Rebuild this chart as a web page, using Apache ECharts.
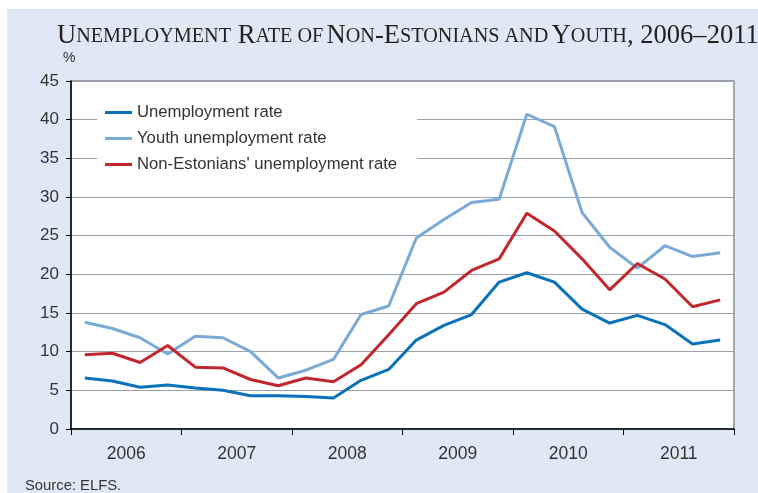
<!DOCTYPE html>
<html><head><meta charset="utf-8">
<script src="https://cdn.jsdelivr.net/npm/echarts@6/dist/echarts.min.js"></script>
<style>html,body{margin:0;padding:0;background:#fff}#c{width:758px;height:493px}</style>
</head><body><div id="c"></div>
<script>
var quarters = ['2006Q1','2006Q2','2006Q3','2006Q4','2007Q1','2007Q2','2007Q3','2007Q4',
  '2008Q1','2008Q2','2008Q3','2008Q4','2009Q1','2009Q2','2009Q3','2009Q4',
  '2010Q1','2010Q2','2010Q3','2010Q4','2011Q1','2011Q2','2011Q3','2011Q4'];
var years = ['2006','2007','2008','2009','2010','2011'];
var unemployment = [6.6,6.2,5.4,5.7,5.3,5.0,4.3,4.3,4.2,4.0,6.3,7.7,11.5,13.4,14.8,19.0,20.2,19.0,15.5,13.7,14.7,13.5,11.0,11.5];
var youth = [13.8,13.0,11.8,9.7,12.0,11.8,10.0,6.6,7.6,9.0,14.8,15.9,24.7,27.1,29.3,29.7,40.7,39.1,28.0,23.5,20.8,23.7,22.3,22.8];
var nonEstonians = [9.6,9.8,8.6,10.8,8.0,7.9,6.4,5.6,6.6,6.1,8.3,12.2,16.2,17.7,20.5,22.0,27.9,25.6,22.0,18.0,21.4,19.4,15.8,16.7];
var yTicks = {min:0, max:45, interval:5};

var chart = echarts.init(document.getElementById('c'), null, {renderer:'canvas'});
chart.setOption({
  backgroundColor:'#fff',
  animation:false,
  graphic:[
    {type:'rect', z:-10, shape:{x:7,y:9,width:751,height:484}, style:{fill:'#e1e8f5'}},
    {type:'text', left:57, top:23, style:{
      text:'{a|U}{b|NEMPLOYMENT}  {a|R}{b|ATE OF} {a|N}{b|ON}{a|-E}{b|STONIANS AND} {a|Y}{b|OUTH}{a|, 2006–2011}',
      rich:{
        a:{fontFamily:'Liberation Serif', fontSize:26.6, fill:'#231f20'},
        b:{fontFamily:'Liberation Serif', fontSize:20.2, fill:'#231f20'}
      }
    }},
    {type:'text', left:63, top:51, style:{text:'%', fontFamily:'Liberation Sans', fontSize:14, fill:'#333'}},
    {type:'text', left:25, top:478, style:{text:'Source: ELFS.', fontFamily:'Liberation Sans', fontSize:14.8, fill:'#333'}}
  ],
  grid:{left:71, right:24, top:81, bottom:64, show:true, backgroundColor:'#fff', borderColor:'#858c94', borderWidth:1.5},
  legend:{
    orient:'vertical', left:97, top:98,
    backgroundColor:'#fff', padding:[6,20,8,8],
    itemWidth:27, itemHeight:3, itemGap:9, icon:'rect',
    textStyle:{fontFamily:'Liberation Sans', fontSize:16.7, color:'#333'},
    data:['Unemployment rate','Youth unemployment rate',"Non-Estonians' unemployment rate"]
  },
  xAxis:[
    {type:'category', data:quarters, boundaryGap:true, axisLabel:{show:false}, axisTick:{show:false}, axisLine:{show:false}, splitLine:{show:false}},
    {type:'category', data:years, boundaryGap:true, position:'bottom',
     axisLine:{show:true, lineStyle:{color:'#000', width:1.5}},
     axisTick:{show:true, inside:false, length:6, lineStyle:{color:'#000'}},
     axisLabel:{fontFamily:'Liberation Sans', fontSize:17.5, color:'#333', margin:16},
     splitLine:{show:false}}
  ],
  yAxis:{type:'value', min:yTicks.min, max:yTicks.max, interval:yTicks.interval,
    axisLine:{show:true, lineStyle:{color:'#000', width:1.5}},
    axisTick:{show:true, length:5, lineStyle:{color:'#000'}},
    axisLabel:{fontFamily:'Liberation Sans', fontSize:17, color:'#333', margin:12},
    splitLine:{show:true, lineStyle:{color:'#9aa1a8', width:1.2}}
  },
  series:[
    {name:'Unemployment rate', type:'line', xAxisIndex:0, data:unemployment, symbol:'none', lineStyle:{width:3, color:'#0a72ba'}, itemStyle:{color:'#0a72ba'}},
    {name:'Youth unemployment rate', type:'line', xAxisIndex:0, data:youth, symbol:'none', lineStyle:{width:3, color:'#7aaad6'}, itemStyle:{color:'#7aaad6'}},
    {name:"Non-Estonians' unemployment rate", type:'line', xAxisIndex:0, data:nonEstonians, symbol:'none', lineStyle:{width:3, color:'#c1272d'}, itemStyle:{color:'#c1272d'}}
  ]
});
</script></body></html>
